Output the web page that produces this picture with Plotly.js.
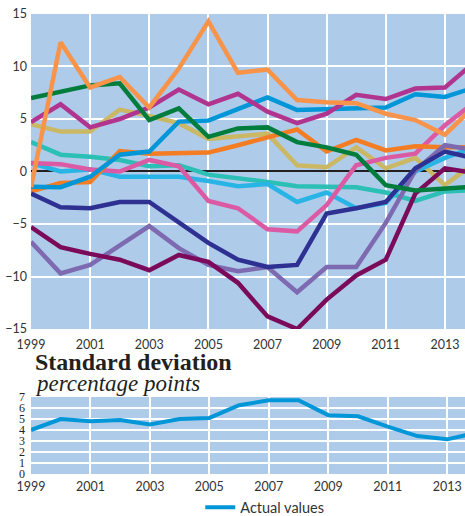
<!DOCTYPE html>
<html>
<head>
<meta charset="utf-8">
<script src="https://cdn.plot.ly/plotly-3.0.1.min.js"></script>
<style>
html,body{margin:0;padding:0;background:#fff;}
#chart{width:465px;height:516px;}
</style>
</head>
<body>
<div id="chart"></div>
<script>
const years = [1999,2000,2001,2002,2003,2004,2005,2006,2007,2008,2009,2010,2011,2012,2013,2014];

const khaki     = [4.5,3.8,3.8,5.9,5.3,4.6,3.1,3.4,3.6,0.6,0.4,2.3,0.3,1.3,-1.3,0.8];
const teal      = [2.8,1.6,1.4,1.1,0.5,0.6,-0.3,-0.6,-1.0,-1.4,-1.5,-1.5,-2.0,-2.8,-1.9,-1.75];
const cyan      = [0.8,0.0,0.2,-0.5,-0.5,-0.5,-0.9,-1.4,-1.2,-2.9,-2.0,-3.5,-3.0,0.0,1.3,2.3];
const pink      = [0.8,0.7,0.2,0.0,1.1,0.5,-2.8,-3.5,-5.5,-5.7,-3.2,0.6,1.3,1.7,4.4,6.6];
const darkOrange= [-1.9,-1.1,-1.0,1.95,1.7,1.7,1.8,2.5,3.3,4.0,1.9,3.0,2.0,2.4,2.3,2.3];
const lavender  = [-6.7,-9.7,-8.9,-7.0,-5.2,-7.3,-8.9,-9.5,-9.1,-11.5,-9.1,-9.1,-4.9,0.1,2.5,2.05];
const navy      = [-2.1,-3.4,-3.5,-2.9,-2.9,-4.8,-6.8,-8.4,-9.1,-8.9,-4.0,-3.5,-2.9,0.3,1.9,1.25];
const maroon    = [-5.3,-7.2,-7.85,-8.4,-9.4,-7.95,-8.6,-10.6,-13.8,-15.0,-12.2,-9.9,-8.4,-2.1,0.3,-0.15];
const blue      = [-1.45,-1.5,-0.5,1.6,1.9,4.75,4.85,5.95,7.05,5.85,5.9,6.0,6.1,7.35,7.1,8.0];
const magenta   = [4.7,6.4,4.2,5.0,6.1,7.8,6.4,7.4,5.7,4.6,5.5,7.3,6.9,7.9,8.0,10.4];
const green     = [7.0,7.6,8.2,8.4,4.9,6.0,3.3,4.1,4.2,2.8,2.3,1.6,-1.3,-1.8,-1.6,-1.45];
const lightOrange=[-1.5,12.3,8.0,9.0,6.1,9.8,14.3,9.4,9.7,6.8,6.6,6.5,5.5,4.9,3.5,6.2];

const stdDev    = [4.0,5.0,4.8,4.9,4.5,5.0,5.1,6.25,6.7,6.7,5.35,5.25,4.3,3.45,3.15,3.75];

const seriesList = [
  {y: khaki, c: '#cbb865'},
  {y: teal, c: '#2cbfb5'},
  {y: cyan, c: '#29b4e6'},
  {y: pink, c: '#dc5aa3'},
  {y: darkOrange, c: '#f47c22'},
  {y: lavender, c: '#7d6ab0'},
  {y: navy, c: '#2e3192'},
  {y: maroon, c: '#7c0a5b'},
  {y: blue, c: '#0096d8'},
  {y: magenta, c: '#b1348f'},
  {y: green, c: '#007d3c'},
  {y: lightOrange, c: '#f8944a'}
];

const traces = seriesList.map(s => ({
  x: years, y: s.y, type: 'scatter', mode: 'lines',
  line: {color: s.c, width: 4.5},
  xaxis: 'x', yaxis: 'y', showlegend: false, hoverinfo: 'skip'
}));

traces.push({
  x: years, y: stdDev, type: 'scatter', mode: 'lines',
  name: 'Actual values',
  line: {color: '#0096d8', width: 4},
  xaxis: 'x2', yaxis: 'y2', showlegend: true, hoverinfo: 'skip'
});

const bg = '#aecbe9';
const sansTick = {family: 'Lato, sans-serif', size: 12.5, color: '#333333'};

const layout = {
  width: 465, height: 516,
  margin: {l: 31, r: 0, t: 0, b: 0, autoexpand: false},
  paper_bgcolor: '#ffffff',
  plot_bgcolor: bg,
  showlegend: true,
  xaxis: {
    domain: [0, 1], anchor: 'y', range: [1999, 2013.68],
    tick0: 1999, dtick: 2, showgrid: true, gridcolor: '#ffffff', gridwidth: 2,
    zeroline: false, showline: false, ticks: '', tickfont: sansTick,
    ticklabelstandoff: 6, fixedrange: true
  },
  yaxis: {
    domain: [0.3624, 0.9729], anchor: 'x', range: [-15, 15],
    tick0: 0, dtick: 5, showgrid: true, gridcolor: '#ffffff', gridwidth: 2,
    zeroline: true, zerolinecolor: '#231f20', zerolinewidth: 2,
    showline: false, ticks: '', tickfont: sansTick, ticklabelstandoff: 3, fixedrange: true
  },
  xaxis2: {
    domain: [0, 1], anchor: 'y2', range: [1999, 2013.6],
    tick0: 1999, dtick: 2, showgrid: true, gridcolor: '#ffffff', gridwidth: 2,
    zeroline: false, showline: false, ticks: '', tickfont: sansTick,
    ticklabelstandoff: 4, fixedrange: true
  },
  yaxis2: {
    domain: [0.0814, 0.2306], anchor: 'x2', range: [0, 7],
    tick0: 0, dtick: 1, showgrid: true, gridcolor: '#ffffff', gridwidth: 2,
    zeroline: false, showline: false, ticks: '',
    tickfont: {family: '"Liberation Serif", "Times New Roman", serif', size: 12, color: '#231f20'},
    ticklabelstandoff: 5, fixedrange: true
  },
  legend: {
    orientation: 'h', x: 0.39, xanchor: 'left',
    yref: 'container', y: 0.017, yanchor: 'middle',
    bgcolor: 'rgba(0,0,0,0)', borderwidth: 0,
    font: {family: 'Lato, sans-serif', size: 14.5, color: '#333333'}
  },
  annotations: [
    {text: '<b>Standard deviation</b>', xref: 'paper', yref: 'paper',
     x: 0.0046, y: 0.2984, xanchor: 'left', yanchor: 'middle', showarrow: false,
     font: {family: '"Liberation Serif", "Times New Roman", serif', size: 24, color: '#231f20'}},
    {text: '<i>percentage points</i>', xref: 'paper', yref: 'paper',
     x: 0.0046, y: 0.2575, xanchor: 'left', yanchor: 'middle', showarrow: false,
     font: {family: '"Liberation Serif", "Times New Roman", serif', size: 23, color: '#231f20'}}
  ]
};

Plotly.newPlot('chart', traces, layout, {displayModeBar: false, staticPlot: true});
</script>
</body>
</html>
